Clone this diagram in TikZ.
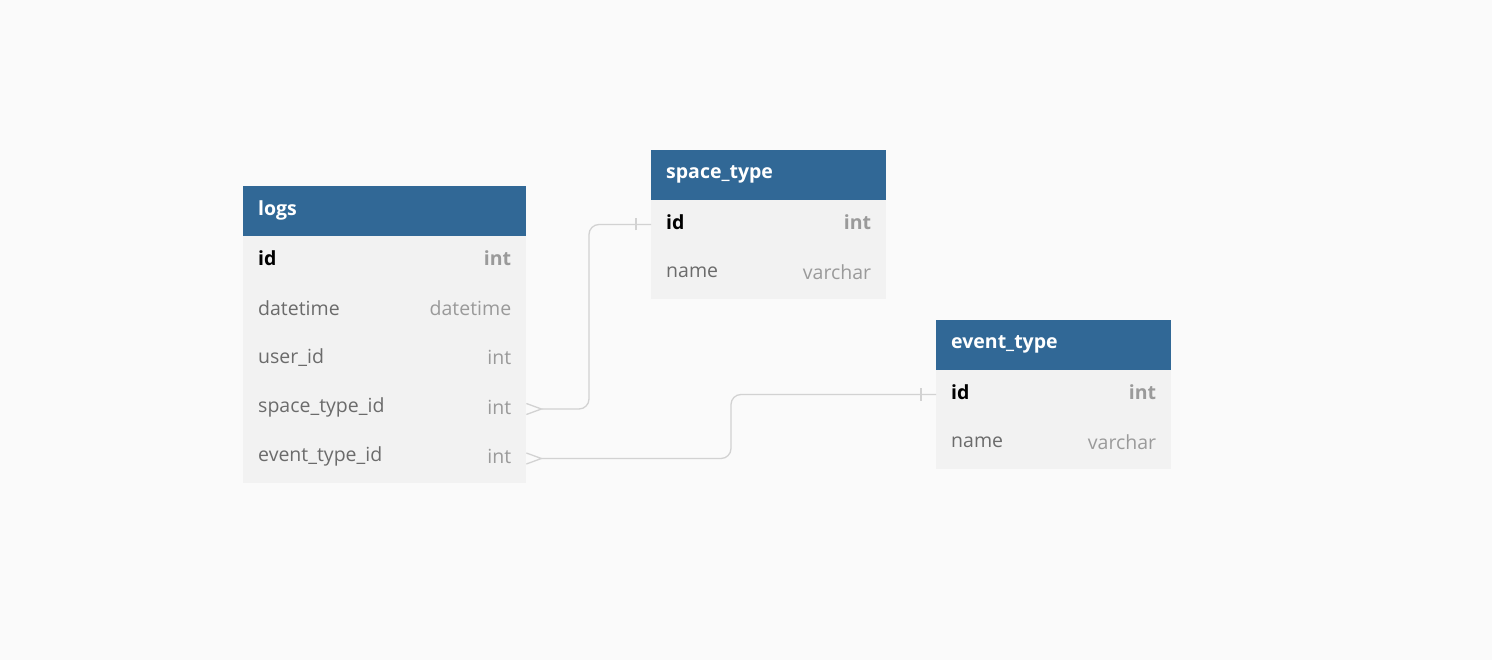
\documentclass[tikz,border=0pt]{standalone}
\usepackage{fontspec}
\setmainfont{Open Sans}
\definecolor{bgc}{HTML}{FAFAFA}
\definecolor{hdrc}{HTML}{316896}
\definecolor{rowc}{HTML}{F2F2F2}
\definecolor{namec}{HTML}{6B6B6B}
\definecolor{typec}{HTML}{9A9A9A}
\definecolor{linec}{HTML}{D2D2D2}
\tikzset{
  hdr/.style={draw=none, fill=hdrc, inner sep=0pt, minimum height=49.6pt, anchor=north west},
  rowbox/.style={draw=none, fill=rowc, inner sep=0pt, minimum height=49.6pt, anchor=north west},
  htext/.style={anchor=west, text=white, font=\fontsize{19.5}{22}\selectfont\bfseries, inner sep=0pt},
  pkname/.style={anchor=west, text=black, font=\fontsize{19.5}{22}\selectfont\bfseries, inner sep=0pt},
  pktype/.style={anchor=east, text=typec, font=\fontsize{19.5}{22}\selectfont\bfseries, inner sep=0pt},
  fname/.style={anchor=west, text=namec, font=\fontsize{19.5}{22}\selectfont, inner sep=0pt},
  ftype/.style={anchor=east, text=typec, font=\fontsize{19.5}{22}\selectfont, inner sep=0pt},
  conn/.style={draw=linec, line width=1.3pt, rounded corners=10pt},
  mark1/.style={draw=linec, line width=1.3pt},
}
\begin{document}
\begin{tikzpicture}[x=1pt,y=-1pt]
\fill[bgc] (0,0) rectangle (1492,660);
\useasboundingbox (0,0) rectangle (1492,660);

% ---- logs ----
\node[hdr, minimum width=283pt] (lgh) at (243,186) {};
\node[htext] (lght) at ([xshift=15pt,yshift=1pt]lgh.west) {logs};
\node[rowbox, minimum width=283pt] (lg1) at (243,235.5) {};
\node[rowbox, minimum width=283pt] (lg2) at (243,285.0) {};
\node[rowbox, minimum width=283pt] (lg3) at (243,334.5) {};
\node[rowbox, minimum width=283pt] (lg4) at (243,384.0) {};
\node[rowbox, minimum width=283pt] (lg5) at (243,433.5) {};
\node[pkname] (lg1n) at ([xshift=15pt,yshift=2pt]lg1.west) {id};
\node[pktype] (lg1t) at ([xshift=-15pt,yshift=2pt]lg1.east) {int};
\node[fname] (lg2n) at ([xshift=15pt,yshift=2pt]lg2.west) {datetime};
\node[ftype] (lg2t) at ([xshift=-15pt,yshift=2pt]lg2.east) {datetime};
\node[fname] (lg3n) at ([xshift=15pt,yshift=2pt]lg3.west) {user\_id};
\node[ftype] (lg3t) at ([xshift=-15pt,yshift=2pt]lg3.east) {int};
\node[fname] (lg4n) at ([xshift=15pt,yshift=2pt]lg4.west) {space\_type\_id};
\node[ftype] (lg4t) at ([xshift=-15pt,yshift=2pt]lg4.east) {int};
\node[fname] (lg5n) at ([xshift=15pt,yshift=2pt]lg5.west) {event\_type\_id};
\node[ftype] (lg5t) at ([xshift=-15pt,yshift=2pt]lg5.east) {int};

% ---- space_type ----
\node[hdr, minimum width=235pt] (sth) at (651,150) {};
\node[htext] (stht) at ([xshift=15pt,yshift=1pt]sth.west) {space\_type};
\node[rowbox, minimum width=235pt] (st1) at (651,199.5) {};
\node[rowbox, minimum width=235pt] (st2) at (651,249.0) {};
\node[pkname] (st1n) at ([xshift=15pt,yshift=2pt]st1.west) {id};
\node[pktype] (st1t) at ([xshift=-15pt,yshift=2pt]st1.east) {int};
\node[fname] (st2n) at ([xshift=15pt,yshift=2pt]st2.west) {name};
\node[ftype] (st2t) at ([xshift=-15pt,yshift=2pt]st2.east) {varchar};

% ---- event_type ----
\node[hdr, minimum width=235pt] (eth) at (936,320) {};
\node[htext] (etht) at ([xshift=15pt,yshift=1pt]eth.west) {event\_type};
\node[rowbox, minimum width=235pt] (et1) at (936,369.5) {};
\node[rowbox, minimum width=235pt] (et2) at (936,419.0) {};
\node[pkname] (et1n) at ([xshift=15pt,yshift=2pt]et1.west) {id};
\node[pktype] (et1t) at ([xshift=-15pt,yshift=2pt]et1.east) {int};
\node[fname] (et2n) at ([xshift=15pt,yshift=2pt]et2.west) {name};
\node[ftype] (et2t) at ([xshift=-15pt,yshift=2pt]et2.east) {varchar};

% ---- connectors ----
\coordinate (c1a) at ([xshift=15pt]lg4.east);
\coordinate (c2a) at ([xshift=15pt]lg5.east);
\draw[conn] (st1.west) -- ++(-62,0) |- (c1a);
\draw[conn] (et1.west) -- ++(-205,0) |- (c2a);
% one-side ticks
\draw[mark1] ([xshift=-15pt,yshift=-6pt]st1.west) -- ([xshift=-15pt,yshift=6pt]st1.west);
\draw[mark1] ([xshift=-15pt,yshift=-6pt]et1.west) -- ([xshift=-15pt,yshift=6pt]et1.west);
% crow's feet
\draw[mark1] ([yshift=-5.5pt]lg4.east) -- (c1a) -- ([yshift=5.5pt]lg4.east);
\draw[mark1] ([yshift=-5.5pt]lg5.east) -- (c2a) -- ([yshift=5.5pt]lg5.east);
\end{tikzpicture}
\end{document}
